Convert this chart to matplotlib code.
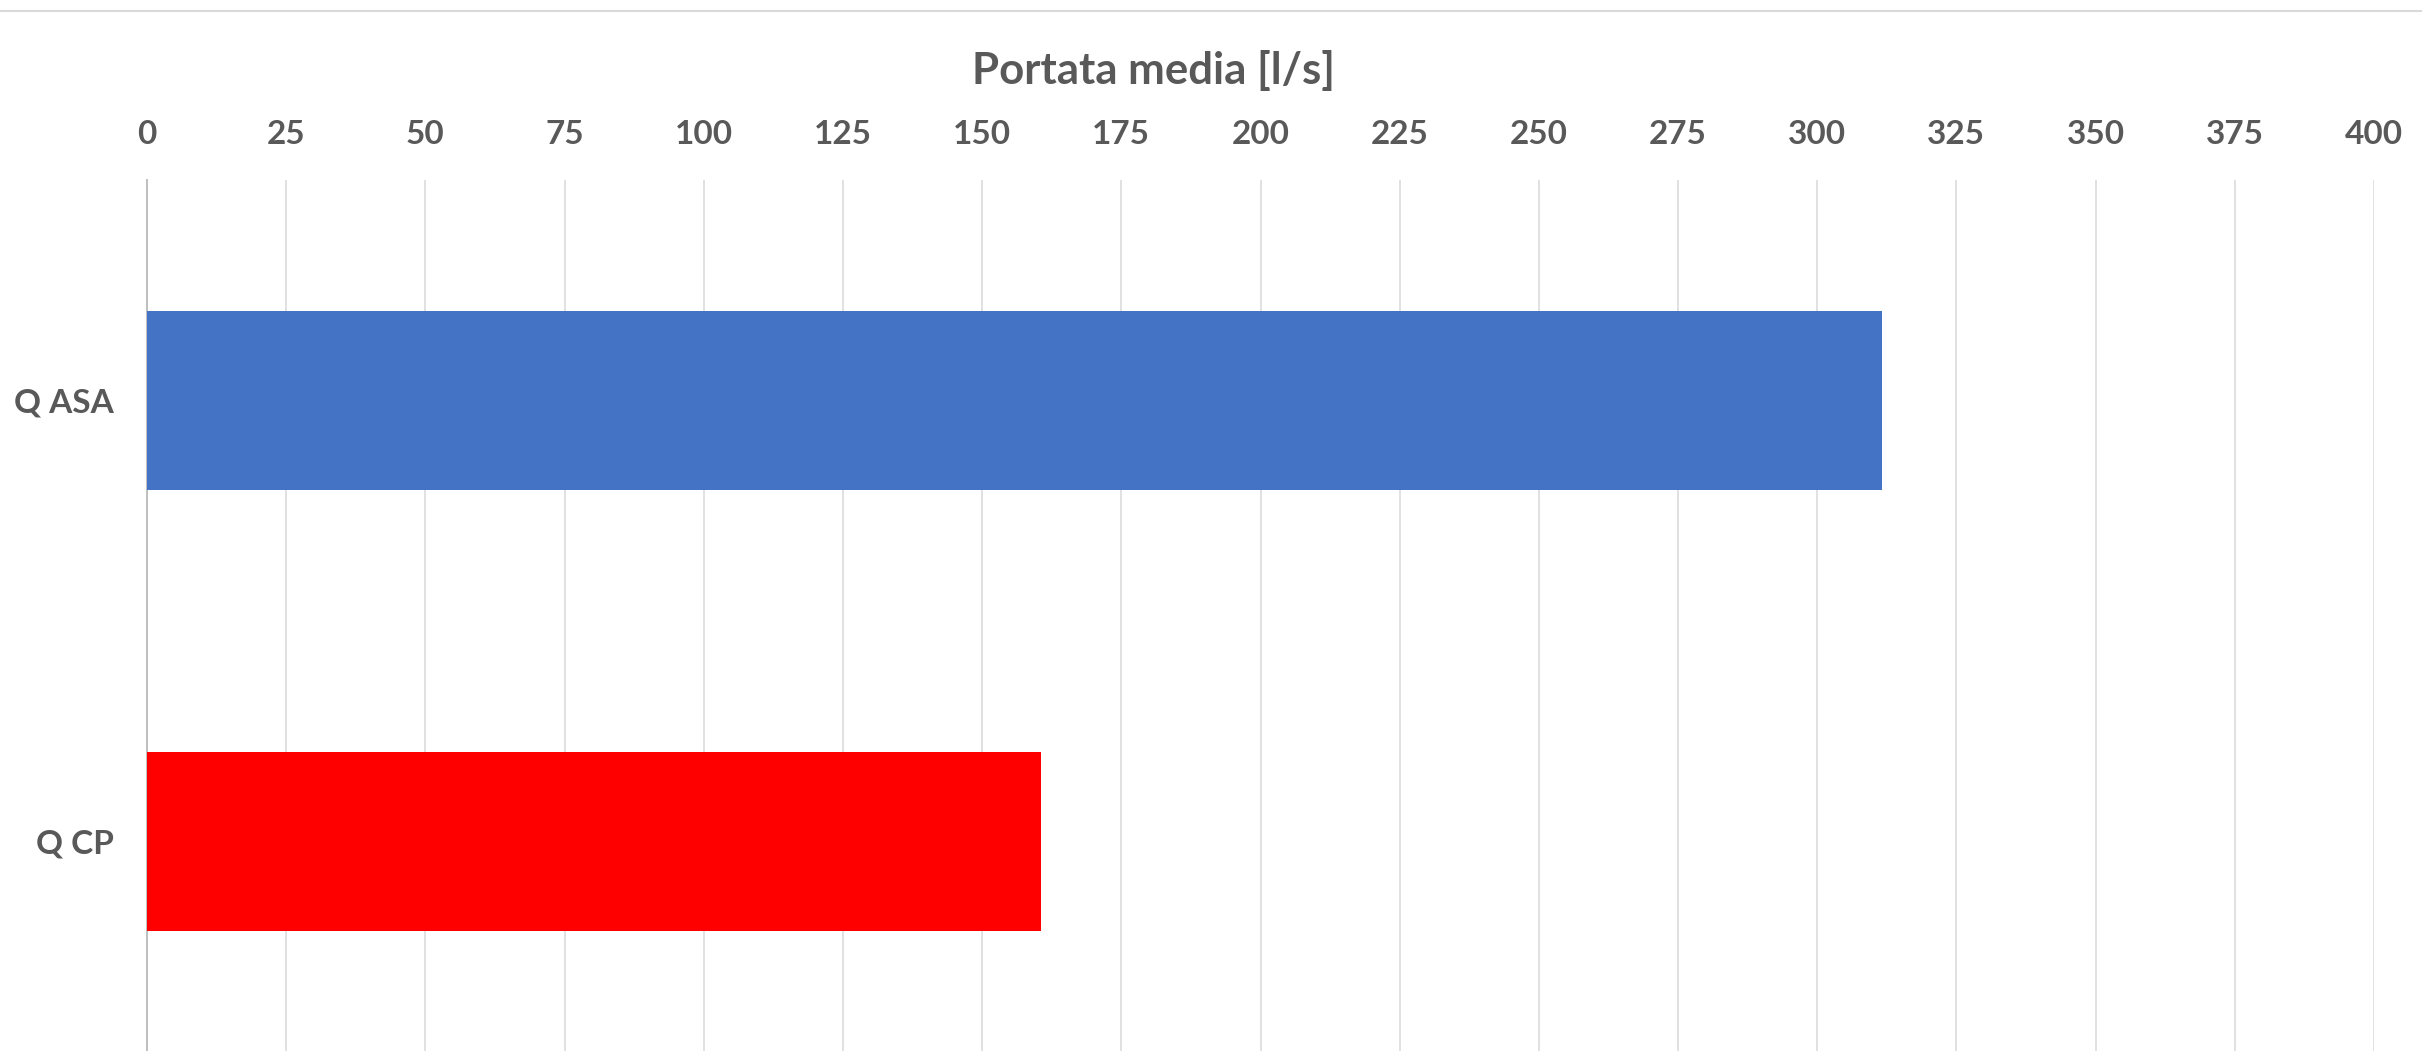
import matplotlib.pyplot as plt
from matplotlib.lines import Line2D

# Dati
categorie = ['Q ASA', 'Q CP']
portata = [311.6, 160.6]
colori = ['#4472C4', '#FF0000']
xticks = list(range(0, 401, 25))

testo = '#595959'
plt.rcParams['font.family'] = ['Lato', 'DejaVu Sans']

W, H = 2422, 1051
fig = plt.figure(figsize=(W / 100, H / 100), dpi=100)
# asse che sborda in basso come nel riferimento (ritagliato)
ax = fig.add_axes([147 / W, (H - 1062) / H, (2374 - 147) / W, 882 / H])

ypos = list(range(len(categorie)))
ax.barh(ypos, portata, height=0.404, color=colori, zorder=3)

ax.set_xlim(0, 400)
ax.set_ylim(1.5, -0.5)
ax.set_xticks(xticks)
ax.set_yticks(ypos)
ax.set_yticklabels(categorie)

ax.xaxis.tick_top()
ax.tick_params(axis='x', length=0, pad=22, labelsize=24, labelcolor=testo)
ax.tick_params(axis='y', length=0, pad=24, labelsize=24, labelcolor=testo)
for lab in ax.get_xticklabels() + ax.get_yticklabels():
    lab.set_fontweight('bold')

ax.grid(axis='x', color='#d9d9d9', linewidth=1.1, zorder=0)
ax.set_axisbelow(True)
for s in ['top', 'right', 'bottom']:
    ax.spines[s].set_visible(False)
ax.spines['left'].set_color('#bfbfbf')
ax.spines['left'].set_linewidth(1.4)

# titolo asse
fig.text(1154 / W, 1 - 84 / H, 'Portata media [l/s]', ha='center', va='baseline',
         fontsize=31.5, fontweight='bold', color=testo)

# bordo superiore del grafico
fig.add_artist(Line2D([0, 1], [1 - 11 / H, 1 - 11 / H], transform=fig.transFigure,
                      color='#d9d9d9', linewidth=1.5))

fig.savefig('out.png', dpi=100)
